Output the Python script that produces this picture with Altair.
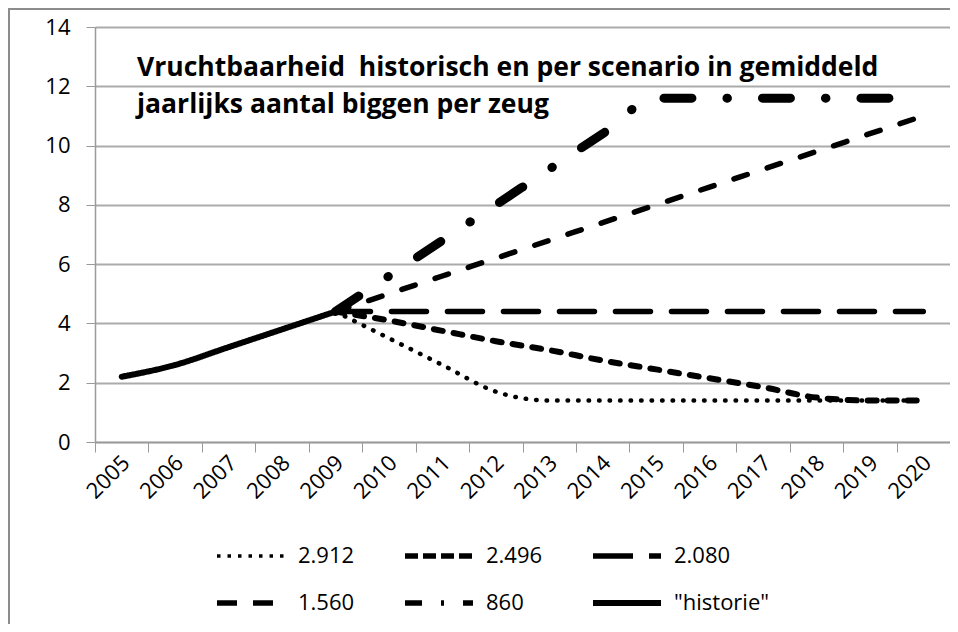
import altair as alt
import pandas as pd

# ---------------- data ----------------
years = ["2005", "2006", "2007", "2008", "2009", "2010", "2011", "2012",
         "2013", "2014", "2015", "2016", "2017", "2018", "2019", "2020"]
series = ["2.912", "2.496", "2.080", "1.560", "860", "historie"]
series_labels = ["2.912", "2.496", "2.080", "1.560", "860", '"historie"']

hist_years = ["2005", "2006", "2007", "2008", "2009"]
hist_values = [2.2, 2.6, 3.2, 3.8, 4.4]

scen_years = ["2009", "2010", "2011", "2012", "2013", "2014",
              "2015", "2016", "2017", "2018", "2019", "2020"]
v_2912 = [4.4, 3.5, 2.6, 1.7, 1.4, 1.4, 1.4, 1.4, 1.4, 1.4, 1.4, 1.4]
v_2496 = [4.4, 4.1, 3.75, 3.4, 3.1, 2.75, 2.45, 2.15, 1.85, 1.5, 1.4, 1.4]
v_2080 = [4.4, 4.4, 4.4, 4.4, 4.4, 4.4, 4.4, 4.4, 4.4, 4.4, 4.4, 4.4]
v_1560 = [4.4, 5.0, 5.6, 6.2, 6.8, 7.4, 8.0, 8.6, 9.2, 9.8, 10.4, 11.0]
v_860 = [4.4, 5.6, 6.8, 8.0, 9.2, 10.4, 11.6, 11.6, 11.6, 11.6, 11.6, 11.6]

y_ticks = [0, 2, 4, 6, 8, 10, 12, 14]
title_lines = ["Vruchtbaarheid\u00a0 historisch en per scenario in gemiddeld",
               "jaarlijks aantal biggen per zeug"]

# ---------------- styles ----------------
line_dash = [[0.5, 10], [9, 11], [35, 21], [14, 21], [28, 35, 0.5, 35], [1, 0]]
line_width = [4.5, 6, 5.5, 5.5, 9, 6]
legend_dash = [[3.5, 7], [13, 5], [40, 16], [20, 16], [17, 19, 3, 19], [1, 0]]
legend_width = [3.5, 5.5, 5.5, 5.5, 5.5, 6]

FONT = "Open Sans"
GRID = "#ababab"
AXIS = "#9a9a9a"

rows = []
for name, vals in [("2.912", v_2912), ("2.496", v_2496), ("2.080", v_2080),
                   ("1.560", v_1560), ("860", v_860)]:
    for yr, v in zip(scen_years, vals):
        rows.append({"year": yr, "value": v, "series": name})
for yr, v in zip(hist_years, hist_values):
    rows.append({"year": yr, "value": v, "series": "historie"})
df = pd.DataFrame(rows)

x_enc = alt.X(
    "year:O",
    scale=alt.Scale(type="band", domain=years, paddingInner=0, paddingOuter=0),
    bandPosition=0.5,
    axis=alt.Axis(title=None, labelAngle=-45, labelAlign="right", labelBaseline="middle",
                  tickBand="extent", ticks=True, tickSize=10, tickColor=AXIS,
                  domainColor=AXIS, domainWidth=1.5, labelPadding=7, labelOffset=4,
                  grid=False),
)
y_enc = alt.Y(
    "value:Q",
    scale=alt.Scale(domain=[0, 14], nice=False, zero=True),
    axis=alt.Axis(title=None, values=y_ticks, grid=True, gridColor=GRID, gridWidth=2,
                  tickSize=9, tickColor=AXIS, domainColor=AXIS, domainWidth=1.5,
                  labelPadding=16),
)

line_layers = []
for name, dash, width in zip(series, line_dash, line_width):
    line_layers.append(
        alt.Chart(df).transform_filter(alt.datum.series == name).mark_line(
            strokeCap="round", strokeJoin="round", interpolate="monotone", color="black",
            strokeDash=dash, strokeWidth=width,
        ).encode(x=x_enc, y=y_enc)
    )

label_expr = "datum.label == 'historie' ? '\"historie\"' : datum.label"
leg = alt.Legend(
    title=None, orient="none", legendX=119, legendY=517, columns=3, direction="horizontal",
    symbolType="stroke", symbolSize=4624, labelFont=FONT, labelFontSize=22, labelColor="black",
    labelOffset=10, columnPadding=47, rowPadding=23, labelLimit=300, padding=0,
    clipHeight=24, labelExpr=label_expr,
)
legend_layer = alt.Chart(df).transform_filter("datum.value < 0").mark_line(
    strokeCap="butt", color="black"
).encode(
    x=x_enc, y=y_enc,
    strokeDash=alt.StrokeDash("series:N", scale=alt.Scale(domain=series, range=legend_dash), legend=leg),
    strokeWidth=alt.StrokeWidth("series:N", scale=alt.Scale(type="ordinal", domain=series, range=legend_width), legend=leg),
)

t1 = alt.Chart(pd.DataFrame({"t": [title_lines[0]]})).mark_text(
    align="left", baseline="alphabetic", font=FONT, fontWeight="bold", fontSize=26.5, color="black"
).encode(x=alt.value(42), y=alt.value(49), text="t:N")
t2 = alt.Chart(pd.DataFrame({"t": [title_lines[1]]})).mark_text(
    align="left", baseline="alphabetic", font=FONT, fontWeight="bold", fontSize=26.5, color="black"
).encode(x=alt.value(42), y=alt.value(86), text="t:N")

frame_df = pd.DataFrame({"f": [0]})
frame_left = alt.Chart(frame_df).mark_rule(stroke="#8c8c8c", strokeWidth=2).encode(
    x=alt.value(-86), y=alt.value(-19), y2=alt.value(800))
frame_top = alt.Chart(frame_df).mark_rule(stroke="#8c8c8c", strokeWidth=2).encode(
    x=alt.value(-87), x2=alt.value(2000), y=alt.value(-18))

chart = alt.layer(frame_left, frame_top, *line_layers, legend_layer, t1, t2).properties(
    width=855, height=415,
    autosize=alt.AutoSizeParams(type="none"),
    padding={"left": 87, "top": 19, "right": 0, "bottom": 182},
).configure_view(stroke=None).configure_axis(
    labelFont=FONT, labelFontSize=22, labelColor="black"
)

chart.save("out.html", embed_options={"renderer": "svg", "actions": False})
